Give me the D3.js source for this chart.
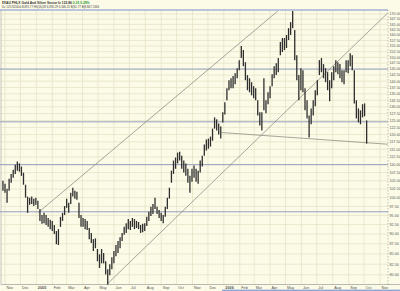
<!DOCTYPE html>
<html>
<head>
<meta charset="utf-8">
<style>
  html, body { margin: 0; padding: 0; background: #fcfbe8; }
  svg { display: block; }
  text { font-family: Arial, "Liberation Sans", sans-serif; }
</style>
</head>
<body>
<svg width="400" height="291"></svg>
<script src="https://d3js.org/d3.v7.min.js"></script>
<script>
// header texts
const titleText = "$XAU PHLX Gold And Silver Sector Ix";
const titleClose = "123.86";
const titleChange = "0.35  0.29%";
const subText = "Dc 12/13/2004-8/491.77 H6(16)28 6,390.29 6,346.22 B(61.77 B(8.847.1346";

// one bar every 4 days starting here
const firstBar = "2004-10-28";
const barStepDays = 4;

const highs = [
  105.0,104.1,102.6,105.6,107.1,108.4,110.0,111.0,110.4,109.4,
  107.5,103.8,100.3,100.0,100.3,99.7,100.0,99.1,96.8,95.1,
  95.7,95.1,94.3,93.8,93.5,92.4,90.8,91.3,94.6,95.7,
  97.6,99.7,98.5,101.4,102.9,102.0,101.7,98.5,95.1,94.3,
  94.0,93.5,91.6,90.3,88.7,88.9,86.2,84.9,86.2,85.2,
  83.2,81.3,82.5,84.2,85.7,87.2,88.2,89.2,90.3,91.9,
  92.9,94.0,93.5,94.3,94.0,93.5,93.2,92.4,92.7,92.9,
  94.6,96.0,97.4,98.2,100.0,97.4,96.5,95.7,95.1,97.4,
  100.0,102.9,108.1,111.3,112.3,113.9,114.2,112.9,111.3,110.4,
  108.7,106.5,108.7,109.7,108.7,108.1,111.3,112.9,116.6,118.3,
  118.6,119.3,122.1,126.1,125.4,123.9,122.8,128.0,131.7,137.2,
  140.4,141.2,142.1,143.3,145.4,148.8,155.0,153.2,147.9,142.5,
  141.2,139.6,138.0,137.2,132.5,128.0,128.0,141.2,132.5,135.6,
  138.0,142.9,146.2,147.5,149.7,156.8,158.6,158.6,160.0,163.2,
  166.1,171.5,162.3,150.9,142.5,145.4,144.5,137.2,132.5,126.8,
  129.4,132.5,136.4,140.4,148.8,149.7,147.1,145.4,143.7,140.4,
  143.7,146.2,148.8,147.9,147.1,144.5,144.5,148.8,148.8,151.8,
  150.9,144.5,132.5,129.4,128.7,131.0,131.3,125.0
];
const lows = [
  102.0,101.4,98.5,102.0,104.4,105.9,107.1,108.1,107.8,106.5,
  103.8,100.0,95.7,98.0,98.2,97.6,98.0,96.8,93.5,92.7,
  92.9,92.4,91.9,91.3,90.8,90.0,87.4,87.2,91.9,93.5,
  95.1,97.1,95.7,98.2,100.3,99.7,99.4,94.3,91.9,91.9,
  91.3,91.1,88.7,87.7,85.7,86.4,83.2,81.6,82.7,82.7,
  80.1,77.8,79.9,81.3,82.7,84.4,85.2,86.4,88.2,89.8,
  90.3,91.3,91.1,91.9,91.3,91.6,91.3,90.3,90.5,90.8,
  92.1,93.5,94.8,95.4,96.8,95.4,94.3,93.5,92.9,94.6,
  96.8,99.7,104.4,107.1,108.7,110.4,111.3,108.7,107.5,106.5,
  104.4,101.4,104.7,105.9,104.7,104.1,107.5,109.4,112.9,114.6,
  115.2,115.9,117.9,122.1,121.4,120.0,118.6,124.3,127.2,132.5,
  136.4,137.2,137.2,138.8,141.2,144.5,149.7,146.2,140.4,136.4,
  135.6,134.4,133.3,132.5,126.8,123.2,121.4,128.7,127.6,131.0,
  133.3,138.0,141.2,142.5,143.7,150.9,152.3,153.2,154.1,157.7,
  160.0,163.2,148.8,140.4,132.5,136.4,135.6,128.7,125.7,119.0,
  123.6,126.8,130.2,134.4,142.5,143.7,141.2,139.6,136.4,132.1,
  137.2,140.4,143.7,142.9,141.2,139.6,138.8,143.7,143.3,146.2,
  144.5,131.3,125.7,124.3,123.6,126.1,126.5,116.9
];

// horizontal lines drawn on the chart
const levelLines = [172, 145, 124.5, 110, 96];
// channel and support lines: [startDate, startValue, endDate, endValue]
const trendLines = [
  ["2005-01-04", 95.7, "2006-04-16", 171.5],
  ["2005-05-18", 77.8, "2006-11-16", 170.5],
  ["2005-12-28", 120.7, "2006-11-16", 116.7]
];

const yTickValues = [80,82.5,85,87.5,90,92.5,95,97.5,100,102.5,105,107.5,110,112.5,115,117.5,
  120,122.5,125,127.5,130,132.5,135,137.5,140,142.5,145,147.5,150,152.5,155,157.5,160,162.5,
  165,167.5,170];
const monthLabels = ["Nov","Dec","2005","Feb","Mar","Apr","May","Jun","Jul","Aug","Sep","Oct",
  "Nov","Dec","2006","Feb","Mar","Apr","May","Jun","Jul","Aug","Sep","Oct","Nov"];

const parse = d3.timeParse("%Y-%m-%d");
const svg = d3.select("svg");

const plotLeft = 1, plotRight = 388, plotTop = 10, plotBottom = 284.5;

const x = d3.scaleTime()
  .domain([parse("2004-11-01"), parse("2006-11-01")])
  .range([5, 380]);
const y = d3.scaleLog()
  .domain([77.8, 172])
  .range([plotBottom, plotTop]);

svg.append("rect").attr("width", 400).attr("height", 291).attr("fill", "#fcfbe8");

// grid
const months = d3.timeMonth.range(parse("2004-11-01"), parse("2006-12-01"));
svg.append("g").selectAll("line").data(yTickValues).join("line")
  .attr("x1", plotLeft).attr("x2", plotRight)
  .attr("y1", d => y(d)).attr("y2", d => y(d))
  .attr("stroke", "#e6e3c6").attr("stroke-width", 0.8);
svg.append("g").selectAll("line").data(months).join("line")
  .attr("x1", d => x(d)).attr("x2", d => x(d))
  .attr("y1", plotTop).attr("y2", plotBottom)
  .attr("stroke", "#e6e3c6").attr("stroke-width", 0.8);

// borders
svg.append("line").attr("x1", plotLeft).attr("x2", plotLeft).attr("y1", plotTop).attr("y2", plotBottom)
  .attr("stroke", "#b8b8b0").attr("stroke-width", 0.8);
svg.append("line").attr("x1", plotRight).attr("x2", plotRight).attr("y1", plotTop).attr("y2", plotBottom)
  .attr("stroke", "#b0b0b0").attr("stroke-width", 0.8).attr("stroke-dasharray", "1.5,1.5");
svg.append("line").attr("x1", plotLeft).attr("x2", 400).attr("y1", plotBottom).attr("y2", plotBottom)
  .attr("stroke", "#a8a8a0").attr("stroke-width", 0.8);

// horizontal level lines
svg.append("g").selectAll("line").data(levelLines).join("line")
  .attr("x1", 0).attr("x2", plotRight)
  .attr("y1", d => y(d)).attr("y2", d => y(d))
  .attr("stroke", (d, i) => i === 0 ? "#7c8dcc" : "#949fbf").attr("stroke-width", 1);

// trend lines
svg.append("g").selectAll("line").data(trendLines).join("line")
  .attr("x1", d => x(parse(d[0]))).attr("y1", d => y(d[1]))
  .attr("x2", d => x(parse(d[2]))).attr("y2", d => y(d[3]))
  .attr("stroke", "#8f8f86").attr("stroke-width", 0.8);

// price bars
const t0 = parse(firstBar);
const bars = highs.map((h, i) => ({ date: d3.timeDay.offset(t0, i * barStepDays), hi: h, lo: lows[i] }));
svg.append("g").selectAll("line").data(bars).join("line")
  .attr("x1", d => x(d.date)).attr("x2", d => x(d.date))
  .attr("y1", d => y(d.hi)).attr("y2", d => y(d.lo))
  .attr("stroke", "#2e2e2e").attr("stroke-width", 1.3);

// y labels
svg.append("g").selectAll("text").data(yTickValues).join("text")
  .attr("x", 389.5).attr("y", d => y(d) + 1.3)
  .attr("font-size", 3.7).attr("fill", "#555")
  .text(d => d3.format(".2f")(d));

// x labels
svg.append("g").selectAll("text").data(months).join("text")
  .attr("x", d => x(d) + 1.5).attr("y", 289)
  .attr("font-size", 3.8).attr("fill", "#555")
  .attr("font-weight", (d, i) => /^\d/.test(monthLabels[i]) ? "bold" : "normal")
  .text((d, i) => monthLabels[i]);

// header
const head = svg.append("text").attr("x", 2).attr("y", 4.2).attr("font-size", 3.3).attr("font-weight", "bold");
head.append("tspan").attr("fill", "#333").text(titleText + "  ");
head.append("tspan").attr("fill", "#333").text(titleClose + "  ");
head.append("tspan").attr("fill", "#2a9a2a").text(titleChange);
svg.append("text").attr("x", 2).attr("y", 8).attr("font-size", 2.9).attr("fill", "#444").text(subText);

// strip at the bottom edge
svg.append("rect").attr("x", 222).attr("y", 289.6).attr("width", 178).attr("height", 1.4).attr("fill", "#8fa6d8");
</script>
</body>
</html>
